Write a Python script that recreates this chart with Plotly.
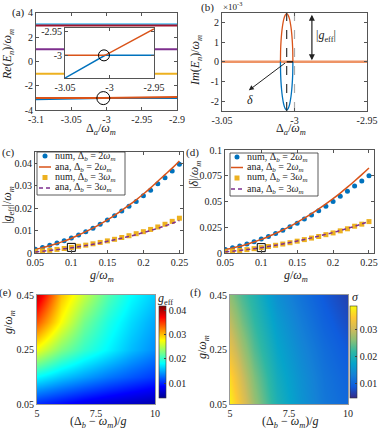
import plotly.graph_objects as go

W, H = 381, 432
FONT = 'Liberation Serif'
BLUE, ORANGE, YELLOW = '#0072BD', '#D95319', '#EDB120'
PURPLE, CYAN, DRED = '#7E2F8E', '#4DBEEE', '#A2142F'

# (a) real parts of eigenvalues
delta_a = [-3.1, -3.005, -2.9]
re_blue = [-3.1, -3.0, -3.0]
re_orange = [-3.0, -3.0, -2.9]
re_yellow = [-1.0, -1.0, -1.0]
re_purple = [1.0, 1.0, 1.0]
re_cyan = [3.05, 3.05, 3.05]
re_dred = [2.96, 2.96, 2.96]
inset_delta = [-3.05, -3.005, -2.95]
inset_blue = [-3.048, -3.0, -3.0]
inset_orange = [-3.0, -3.0, -2.944]
mark_main = ([-3.0045], [-3.0])
mark_inset = ([-3.0062], [-3.0])

# (b) imaginary parts (units of 1e-3)
im_x = [-3.0097, -3.0096, -3.0095, -3.0093, -3.0089, -3.0084, -3.0074, -3.0064, -3.0054,
        -3.0044, -3.0034, -3.0024, -3.0019, -3.0015, -3.0013, -3.0012, -3.0011]
im_upper = [0, 0.52, 0.74, 1.03, 1.42, 1.75, 2.17, 2.38, 2.45, 2.38, 2.17, 1.75, 1.42, 1.03, 0.74, 0.52, 0]
im_lower = [0, -0.52, -0.74, -1.03, -1.42, -1.75, -2.17, -2.38, -2.45, -2.38, -2.17, -1.75, -1.42, -1.03, -0.74, -0.52, 0]
im_flat_x = [-3.05, -2.95]
im_flat = [0, 0]
center_x = -3.0054
right_x = -3.0011
cross_x = -3.0

# (c), (d)
g = [0.05, 0.06, 0.07, 0.08, 0.09, 0.10, 0.11, 0.12, 0.13, 0.14, 0.15,
     0.16, 0.17, 0.18, 0.19, 0.20, 0.21, 0.22, 0.23, 0.24, 0.25]
c_num2 = [0.0017, 0.0025, 0.0034, 0.0044, 0.0055, 0.0067, 0.0080, 0.0095, 0.0110, 0.0128, 0.0147,
          0.0166, 0.0187, 0.0208, 0.0230, 0.0255, 0.0280, 0.0308, 0.0335, 0.0365, 0.0395]
c_ana2 = [0.0016, 0.0024, 0.0032, 0.0042, 0.0053, 0.0066, 0.0080, 0.0095, 0.0111, 0.0129, 0.0148,
          0.0168, 0.0190, 0.0213, 0.0237, 0.0263, 0.0290, 0.0320, 0.0349, 0.0378, 0.0410]
c_num3 = [0.0006, 0.0009, 0.0012, 0.0016, 0.0020, 0.0025, 0.0030, 0.0035, 0.0041, 0.0047, 0.0054,
          0.0061, 0.0069, 0.0077, 0.0086, 0.0095, 0.0105, 0.0116, 0.0128, 0.0141, 0.0155]
c_ana3 = [0.0005, 0.0008, 0.0011, 0.0015, 0.0019, 0.0023, 0.0028, 0.0033, 0.0039, 0.0045, 0.0052,
          0.0059, 0.0066, 0.0074, 0.0082, 0.0091, 0.0100, 0.0110, 0.0121, 0.0132, 0.0145]
d_num2 = [0.0035, 0.0050, 0.0068, 0.0088, 0.0110, 0.0135, 0.0160, 0.0190, 0.0220, 0.0255, 0.0290,
          0.0330, 0.0370, 0.0410, 0.0455, 0.0500, 0.0550, 0.0600, 0.0650, 0.0700, 0.0750]
d_ana2 = [0.0033, 0.0048, 0.0065, 0.0085, 0.0107, 0.0132, 0.0160, 0.0190, 0.0223, 0.0258, 0.0297,
          0.0338, 0.0382, 0.0428, 0.0477, 0.0528, 0.0582, 0.0639, 0.0699, 0.0761, 0.0826]
d_num3 = [0.0012, 0.0018, 0.0025, 0.0033, 0.0042, 0.0052, 0.0063, 0.0075, 0.0087, 0.0100, 0.0115,
          0.0130, 0.0145, 0.0160, 0.0178, 0.0195, 0.0215, 0.0235, 0.0260, 0.0280, 0.0305]
d_ana3 = [0.0012, 0.0018, 0.0025, 0.0033, 0.0042, 0.0052, 0.0063, 0.0075, 0.0088, 0.0102, 0.0116,
          0.0131, 0.0147, 0.0164, 0.0181, 0.0199, 0.0218, 0.0238, 0.0259, 0.0282, 0.0308]
box_g = [0.1]
box_c = [0.0025]
box_d = [0.0052]

# (e) g_eff map
e_x = [5, 6, 7, 8, 9, 10]
e_g = [0.05, 0.10, 0.15, 0.25, 0.35, 0.45]
e_z = [
    [0.0100, 0.0088, 0.0076, 0.0066, 0.0058, 0.0050],
    [0.0140, 0.0125, 0.0112, 0.0100, 0.0090, 0.0080],
    [0.0180, 0.0160, 0.0145, 0.0130, 0.0118, 0.0106],
    [0.0270, 0.0228, 0.0200, 0.0178, 0.0156, 0.0138],
    [0.0340, 0.0275, 0.0225, 0.0192, 0.0168, 0.0148],
    [0.0395, 0.0300, 0.0255, 0.0212, 0.0182, 0.0162],
]
# (f) sigma map
f_x = [5, 5.5, 6, 7, 8, 9, 10]
f_g = [0.05, 0.15, 0.25, 0.35, 0.45]
f_z = [
    [0.0375, 0.0320, 0.0270, 0.0200, 0.0155, 0.0122, 0.0105],
    [0.0355, 0.0300, 0.0255, 0.0190, 0.0150, 0.0118, 0.0098],
    [0.0320, 0.0275, 0.0235, 0.0178, 0.0140, 0.0110, 0.0088],
    [0.0290, 0.0250, 0.0218, 0.0165, 0.0128, 0.0098, 0.0077],
    [0.0262, 0.0230, 0.0205, 0.0150, 0.0116, 0.0088, 0.0068],
]

JET = [[0, '#00008F'], [0.125, '#0000FF'], [0.375, '#00FFFF'],
       [0.625, '#FFFF00'], [0.875, '#FF0000'], [1, '#800000']]
PARULA = [[0, '#352A87'], [0.125, '#0F5CDD'], [0.25, '#1481D6'], [0.375, '#06A4CA'],
          [0.5, '#2EB7A4'], [0.625, '#87BF77'], [0.75, '#D1BB59'], [0.875, '#FEC832'], [1, '#F9FB0E']]
DASH = '4px,3px'


def X(px):
    return px / W


def Y(py):
    return 1 - py / H


def axis(dom, rng, tickvals, ticktext, anchor, ticks='inside'):
    return dict(domain=dom, range=rng, tickvals=tickvals, ticktext=ticktext, anchor=anchor,
                showline=True, linecolor='#555', linewidth=0.8, mirror='ticks' if ticks else True,
                ticks=ticks, ticklen=3, tickcolor='#555', showgrid=False, zeroline=False,
                automargin=False, ticklabeloverflow='allow',
                tickfont=dict(family=FONT, size=10, color='#222'))


fig = go.Figure()


def line(x, y, color, xa, ya, width=2, dash='solid', shape='linear'):
    fig.add_trace(go.Scatter(x=x, y=y, mode='lines', xaxis=xa, yaxis=ya, showlegend=False,
                             line=dict(color=color, width=width, dash=dash, shape=shape),
                             hoverinfo='skip'))


# (a)
line(delta_a, re_cyan, CYAN, 'x', 'y')
line(delta_a, re_dred, DRED, 'x', 'y')
line(delta_a, re_purple, PURPLE, 'x', 'y')
line(delta_a, re_yellow, YELLOW, 'x', 'y')
line(delta_a, re_blue, BLUE, 'x', 'y')
line(delta_a, re_orange, ORANGE, 'x', 'y')
fig.add_trace(go.Scatter(x=mark_main[0], y=mark_main[1], mode='markers', xaxis='x', yaxis='y',
                         showlegend=False, marker=dict(symbol='circle-open', size=13,
                                                       color='black', line=dict(width=1))))
# (b)
line(im_flat_x, im_flat, '#EE9466', 'x2', 'y2', width=2.5)
line(im_x, im_upper, ORANGE, 'x2', 'y2', width=1.3, shape='spline')
line(im_x, im_lower, BLUE, 'x2', 'y2', width=1.3, shape='spline')
line([center_x, center_x], [-2.5, 2.5], '#333', 'x2', 'y2', width=1.2, dash='dash')
line([cross_x, cross_x], [-2.5, 2.5], '#aaa', 'x2', 'y2', width=1.2, dash='dash')
line([center_x, right_x], [0, 0], 'black', 'x2', 'y2', width=1.2)
# inset
line(inset_delta, inset_blue, BLUE, 'x3', 'y3', width=1.5)
line(inset_delta, inset_orange, ORANGE, 'x3', 'y3', width=1.5)
fig.add_trace(go.Scatter(x=mark_inset[0], y=mark_inset[1], mode='markers', xaxis='x3', yaxis='y3',
                         showlegend=False, marker=dict(symbol='circle-open', size=11,
                                                       color='black', line=dict(width=1))))

# (c), (d)
for xa, ya, n2, a2, n3, a3, bx in [('x4', 'y4', c_num2, c_ana2, c_num3, c_ana3, box_c),
                                   ('x5', 'y5', d_num2, d_ana2, d_num3, d_ana3, box_d)]:
    fig.add_trace(go.Scatter(x=g, y=n2, mode='markers', xaxis=xa, yaxis=ya, showlegend=False,
                             marker=dict(symbol='circle', size=5, color=BLUE)))
    line(g, a2, ORANGE, xa, ya, width=1.5, shape='spline')
    fig.add_trace(go.Scatter(x=g, y=n3, mode='markers', xaxis=xa, yaxis=ya, showlegend=False,
                             marker=dict(symbol='square', size=5, color=YELLOW)))
    line(g, a3, PURPLE, xa, ya, width=1.5, dash=DASH, shape='spline')
    fig.add_trace(go.Scatter(x=box_g, y=bx, mode='markers', xaxis=xa, yaxis=ya, showlegend=False,
                             marker=dict(symbol='square-open', size=8, color='black',
                                         line=dict(width=1))))


def cbar(x, vals):
    return dict(x=X(x), xanchor='left', y=Y(352), yanchor='middle',
                len=92, lenmode='pixels', thickness=7, xpad=0, ypad=0,
                outlinewidth=0.6, outlinecolor='#333', ticks='inside', ticklen=2,
                tickvals=vals, ticktext=['%g' % v for v in vals], ticklabeloverflow='allow',
                tickfont=dict(family=FONT, size=10, color='#222'))


# (e), (f)
fig.add_trace(go.Heatmap(x=e_x, y=e_g, z=e_z, xaxis='x6', yaxis='y6', zsmooth='best',
                         colorscale=JET, zmin=0.0038, zmax=0.042,
                         colorbar=cbar(158.5, [0.01, 0.02, 0.03, 0.04])))
fig.add_trace(go.Heatmap(x=f_x, y=f_g, z=f_z, xaxis='x7', yaxis='y7', zsmooth='best',
                         colorscale=PARULA, zmin=0.0049, zmax=0.0384,
                         colorbar=cbar(349.5, [0.01, 0.02, 0.03])))

gx = [0.05, 0.1, 0.15, 0.2, 0.25]
gxt = ['0.05', '0.1', '0.15', '0.2', '0.25']
fig.update_layout(
    width=W, height=H, margin=dict(l=0, r=0, t=0, b=0, autoexpand=False),
    plot_bgcolor='white', paper_bgcolor='white', showlegend=False,
    font=dict(family=FONT, size=10, color='#222'),
    xaxis=axis([X(36), X(177)], [-3.1, -2.9], [-3.1, -3.05, -3, -2.95, -2.9],
               ['-3.1', '-3.05', '-3', '-2.95', '-2.9'], 'y'),
    yaxis=axis([Y(110.3), Y(12.7)], [-4, 4], [-4, -2, 0, 2, 4], ['-4', '-2', '0', '2', '4'], 'x'),
    xaxis2=axis([X(222), X(367)], [-3.05, -2.95], [-3.05, -3, -2.95], ['-3.05', '-3', '-2.95'], 'y2'),
    yaxis2=axis([Y(111), Y(12.7)], [-2.5, 2.5], [-2, -1, 0, 1, 2], ['-2', '-1', '0', '1', '2'], 'x2'),
    xaxis3=axis([X(65), X(154)], [-3.05, -2.95], [-3.05, -3, -2.95], ['-3.05', '-3', '-2.95'], 'y3'),
    yaxis3=axis([Y(78), Y(28)], [-3.048, -2.942], [-3, -2.95], ['-3', '-2.95'], 'x3'),
    xaxis4=axis([X(35), X(183)], [0.0495, 0.255], gx, gxt, 'y4'),
    yaxis4=axis([Y(253), Y(152)], [0, 0.045], [0, 0.01, 0.02, 0.03, 0.04],
                ['0', '0.01', '0.02', '0.03', '0.04'], 'x4'),
    xaxis5=axis([X(225), X(374)], [0.0495, 0.257], gx, gxt, 'y5'),
    yaxis5=axis([Y(253), Y(150)], [0, 0.1], [0, 0.025, 0.05, 0.075, 0.1],
                ['0', '0.025', '0.05', '0.075', '0.1'], 'x5'),
    xaxis6=axis([X(37), X(155)], [5, 10], [5, 7.5, 10], ['5', '7.5', '10'], 'y6', ticks=''),
    yaxis6=axis([Y(404), Y(295)], [0.05, 0.45], [0.05, 0.25, 0.45], ['0.05', '0.25', '0.45'], 'x6', ticks=''),
    xaxis7=axis([X(230), X(348)], [5, 10], [5, 7.5, 10], ['5', '7.5', '10'], 'y7', ticks=''),
    yaxis7=axis([Y(404), Y(295)], [0.05, 0.45], [0.05, 0.25, 0.45], ['0.05', '0.25', '0.45'], 'x7', ticks=''),
)
for k in ['xaxis6', 'yaxis6', 'xaxis7', 'yaxis7']:
    fig.layout[k].linecolor = '#999'


def txt(x, y, s, size=11, angle=0, xa='center'):
    return dict(x=X(x), y=Y(y), xref='paper', yref='paper', text=s, showarrow=False,
                textangle=angle, xanchor=xa, yanchor='middle',
                font=dict(family=FONT, size=size, color='#222'))


om = '<i>ω<sub>m</sub></i>'
ann = [
    txt(18, 13, '(a)'), txt(207, 8, '(b)'), txt(8, 152, '(c)'), txt(193, 152, '(d)'),
    txt(5, 292, '(e)'), txt(195, 292, '(f)'),
    txt(233, 6, '×10<sup>-3</sup>', size=9),
    txt(8, 55, '<i>Re</i>(<i>E<sub>n</sub></i>)/' + om, size=12, angle=-90),
    txt(196, 61, '<i>Im</i>(<i>E<sub>n</sub></i>)/' + om, size=12, angle=-90),
    txt(8, 205, '|<i>g</i><sub>eff</sub>|/' + om, size=12, angle=-90),
    txt(195, 175, '|<i>δ</i>|/' + om, size=12, angle=-90),
    txt(9, 322, '<i>g</i>/' + om, size=12, angle=-90),
    txt(203, 347, '<i>g</i>/' + om, size=12, angle=-90),
    txt(101, 129, 'Δ<sub><i>a</i></sub>/' + om, size=12),
    txt(291, 129, 'Δ<sub><i>a</i></sub>/' + om, size=12),
    txt(102, 276, '<i>g</i>/' + om, size=12),
    txt(296, 276, '<i>g</i>/' + om, size=12),
    txt(98, 422, '(Δ<sub><i>b</i></sub> − ' + om + ')/<i>g</i>', size=12),
    txt(290, 422, '(Δ<sub><i>b</i></sub> − ' + om + ')/<i>g</i>', size=12),
    txt(165, 299, '<i>g</i><sub>eff</sub>', size=12),
    txt(355, 297, '<i>σ</i>', size=12),
    dict(x=-2.988, y=2.4, ax=-2.988, ay=0.0, xref='x2', yref='y2', axref='x2', ayref='y2',
         text='', showarrow=True, arrowhead=2, arrowside='end+start', arrowsize=1,
         arrowwidth=1.2, arrowcolor='#222'),
    dict(x=-2.9785, y=1.3, xref='x2', yref='y2', text='|<i>g</i><sub>eff</sub>|', showarrow=False,
         font=dict(family=FONT, size=12, color='#222')),
    dict(x=-3.0315, y=-1.45, ax=center_x, ay=0.0, xref='x2', yref='y2', axref='x2', ayref='y2',
         text='', showarrow=True, arrowhead=2, arrowsize=1, arrowwidth=1, arrowcolor='#222'),
    dict(x=-3.0305, y=-1.95, xref='x2', yref='y2', text='<i>δ</i>', showarrow=False,
         font=dict(family=FONT, size=12, color='#222')),
]

# legends for (c) and (d)
shapes = []
entries = ['num, Δ<sub><i>b</i></sub> = 2' + om, 'ana, Δ<sub><i>b</i></sub> = 2' + om,
           'num, Δ<sub><i>b</i></sub> = 3' + om, 'ana, Δ<sub><i>b</i></sub> = 3' + om]
for bx0, bx1, by0, by1, gx0, rows in [(37, 125, 152, 195, 45, [156, 167, 177.5, 188]),
                                      (230, 318, 153, 196, 237, [157, 167.5, 178, 189])]:
    shapes.append(dict(type='rect', xref='paper', yref='paper', x0=X(bx0), x1=X(bx1),
                       y0=Y(by1), y1=Y(by0), line=dict(color='#333', width=0.8), fillcolor='white'))
    r = rows
    shapes.append(dict(type='circle', xref='paper', yref='paper', x0=X(gx0 - 2.5), x1=X(gx0 + 2.5),
                       y0=Y(r[0] + 2.5), y1=Y(r[0] - 2.5), line=dict(width=0), fillcolor=BLUE))
    shapes.append(dict(type='line', xref='paper', yref='paper', x0=X(gx0 - 6), x1=X(gx0 + 6),
                       y0=Y(r[1]), y1=Y(r[1]), line=dict(color=ORANGE, width=1.5)))
    shapes.append(dict(type='rect', xref='paper', yref='paper', x0=X(gx0 - 2.5), x1=X(gx0 + 2.5),
                       y0=Y(r[2] + 2.5), y1=Y(r[2] - 2.5), line=dict(width=0), fillcolor=YELLOW))
    shapes.append(dict(type='line', xref='paper', yref='paper', x0=X(gx0 - 6), x1=X(gx0 + 6),
                       y0=Y(r[3]), y1=Y(r[3]), line=dict(color=PURPLE, width=1.5, dash=DASH)))
    for yy, s in zip(r, entries):
        ann.append(txt(gx0 + 8, yy, s, size=10, xa='left'))

fig.update_layout(annotations=ann, shapes=shapes)
fig.write_html("out.html", config={'displayModeBar': False},
               post_script="document.body.style.margin='0';")
